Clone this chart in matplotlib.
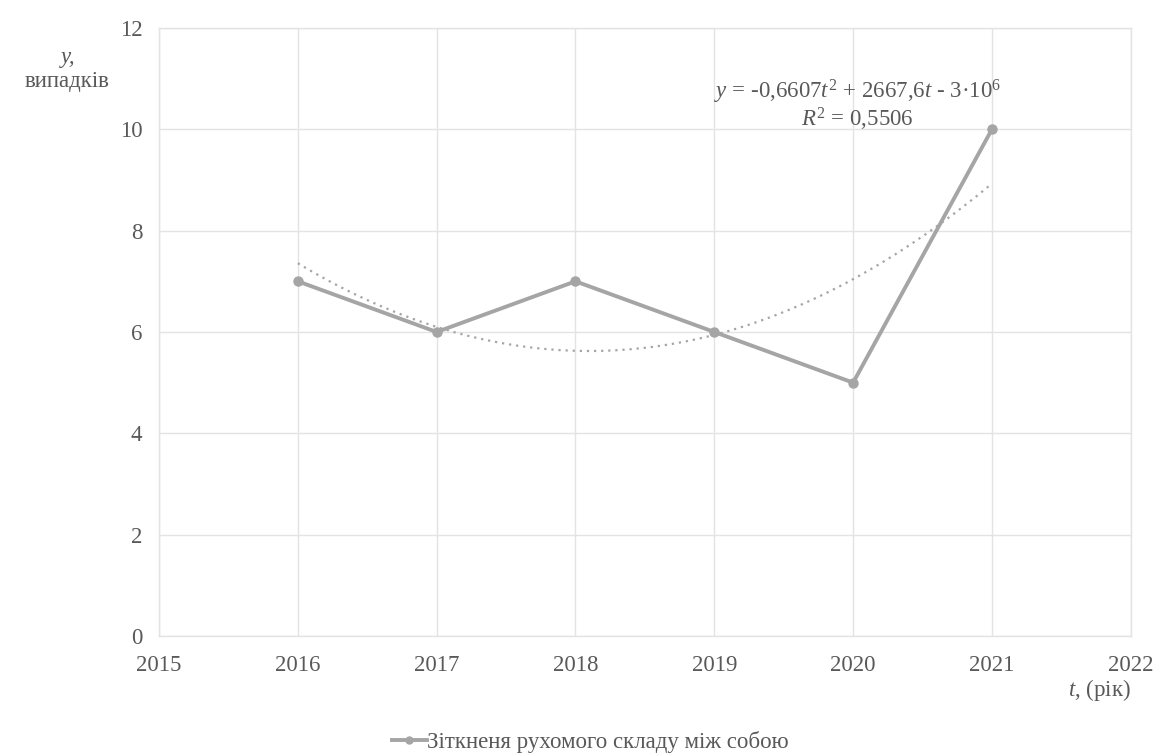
import numpy as np
import matplotlib.pyplot as plt
from matplotlib.lines import Line2D

years = [2016, 2017, 2018, 2019, 2020, 2021]
cases = [7, 6, 7, 6, 5, 10]
series_label = "Зіткненя рухомого складу між собою"
x_ticks = [2015, 2016, 2017, 2018, 2019, 2020, 2021, 2022]
y_ticks = [0, 2, 4, 6, 8, 10, 12]

line_color = "#a5a5a5"
text_color = "#595959"
grid_color = "#e3e3e3"
fs = 16.5

plt.rcParams['font.family'] = ['Liberation Serif', 'DejaVu Serif']
plt.rcParams['mathtext.fontset'] = 'custom'
plt.rcParams['mathtext.rm'] = 'Liberation Serif'
plt.rcParams['mathtext.it'] = 'Liberation Serif:italic'

fig = plt.figure(figsize=(11.55, 7.54), dpi=100)
ax = fig.add_axes([0.1377, 0.1565, 0.979 - 0.1377, 0.9629 - 0.1565])

# quadratic trend line fitted to the series
coef = np.polyfit(years, cases, 2)
tt = np.linspace(years[0], years[-1], 200)
ax.plot(tt, np.polyval(coef, tt), color=line_color, lw=1.6,
        linestyle=(0, (1, 2.2)), zorder=2)

ax.plot(years, cases, color=line_color, lw=2.8, marker='o', ms=6.5, zorder=3)

ax.set_xlim(2015, 2022)
ax.set_ylim(0, 12)
ax.set_xticks(x_ticks)
ax.set_yticks(y_ticks)
ax.grid(True, color=grid_color, lw=1)
ax.set_axisbelow(True)
for s in ax.spines.values():
    s.set_color(grid_color)
    s.set_linewidth(1)
ax.tick_params(length=0, labelsize=fs, colors=text_color)
ax.tick_params(axis='y', pad=12)
ax.tick_params(axis='x', pad=14)

# trend equation and R² as one two-line label
ax.annotate(r"$y$ = -0,6607$t^2$ + 2667,6$t$ - 3·10$^6$" "\n"
            r"$R^2$ = 0,5506",
            xy=(2020.03, 10.47), ha='center', va='center', fontsize=fs,
            color=text_color, multialignment='center', linespacing=1.0)

fig.text(68 / 1155, 1 - 58 / 754, "y,", ha='center', va='center',
         fontsize=fs, style='italic', color=text_color)
fig.text(67 / 1155, 1 - 82 / 754, "випадків", ha='center', va='center',
         fontsize=fs, color=text_color)
fig.text(1131 / 1155, 1 - 690 / 754, r"$t$, (рік)", ha='right', va='center',
         fontsize=fs, color=text_color)

handle = Line2D([], [], color=line_color, lw=2.8, marker='o', ms=5)
fig.legend([handle], [series_label], loc='center',
           bbox_to_anchor=(0.511, 1 - 742 / 754),
           frameon=False, fontsize=fs, labelcolor=text_color, handlelength=1.5,
           handletextpad=0.0)

fig.savefig("out.png", dpi=100, facecolor='white')
